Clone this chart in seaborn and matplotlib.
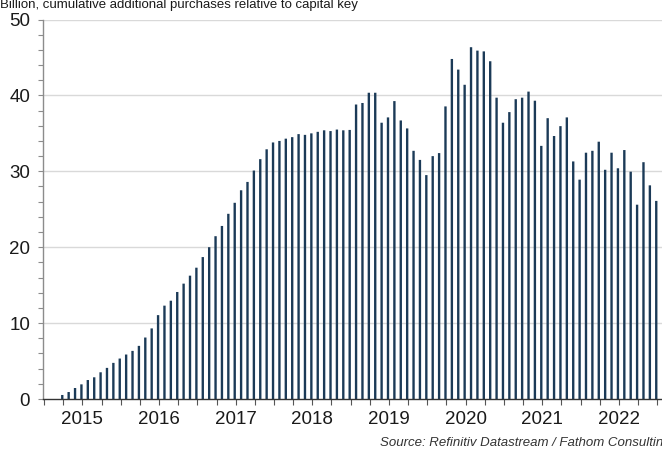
import matplotlib
matplotlib.use("Agg")
import matplotlib.pyplot as plt
import seaborn as sns
import pandas as pd
import numpy as np

# Monthly categories: Mar 2015 .. Dec 2022
months = [p.strftime("%Y-%m") for p in pd.period_range("2015-03", "2022-12", freq="M")]

values = [
    0.53, 0.92, 1.45, 1.93, 2.5, 2.86, 3.52, 4.1, 4.76, 5.33,
    5.86, 6.34, 7.0, 8.1, 9.3, 11.05, 12.3, 12.95, 14.1, 15.2,
    16.25, 17.3, 18.7, 20.0, 21.45, 22.8, 24.4, 25.85, 27.5, 28.6,
    30.1, 31.6, 32.9, 33.8, 34.0, 34.3, 34.5, 34.9, 34.8, 35.0,
    35.2, 35.4, 35.3, 35.5, 35.4, 35.45, 38.8, 39.0, 40.35, 40.35,
    36.4, 37.1, 39.25, 36.7, 35.65, 32.7, 31.5, 29.5, 32.0, 32.4,
    38.55, 44.8, 43.4, 41.4, 46.35, 45.9, 45.8, 44.5, 39.7, 36.4,
    37.8, 39.5, 39.7, 40.5, 39.3, 33.35, 37.0, 34.65, 35.95, 37.1,
    31.3, 28.9, 32.45, 32.7, 33.9, 30.2, 32.45, 30.4, 32.8, 29.95,
    25.6, 31.2, 28.15, 26.1,
]

year_labels = ["2015", "2016", "2017", "2018", "2019", "2020", "2021", "2022"]
y_ticks = [0, 10, 20, 30, 40, 50]

title = "Billion, cumulative additional purchases relative to capital key"
source = "Source: Refinitiv Datastream / Fathom Consulting"

sns.set_theme(style="white")
plt.rcParams["font.family"] = ["Liberation Sans", "DejaVu Sans"]

W, H = 662, 450
fig = plt.figure(figsize=(W / 100, H / 100), dpi=100)
ax = fig.add_axes([43.3 / W, 1 - 399 / H, (662 - 43.3) / W, (399 - 19.5) / H])

df = pd.DataFrame({"month": months, "value": values})
sns.barplot(data=df, x="month", y="value", order=months, color="#1b3a57",
            saturation=1, width=0.37, errorbar=None, ax=ax, zorder=3,
            linewidth=0, antialiased=True, snap=False)

first_month_offset = 2  # index 0 = March 2015
def month_pos(year, month_float):
    return (year - 2015) * 12 + month_float - first_month_offset - 0.85

minor = [month_pos(2015, m) + 12 * k for k in range(-1, 9) for m in (0, 3, 6, 9)]
minor = sorted(p for p in minor if -3 <= p <= 94)
ax.set_xticks(minor, minor=True)
major = [month_pos(2015 + i, 6) for i in range(len(year_labels))]
ax.set_xticks(major)
ax.set_xticklabels(year_labels)
ax.set_xlim(-2.97, 93.9)

ax.set_ylim(0, 50)
ax.set_yticks(y_ticks)
ax.set_yticklabels([str(v) for v in y_ticks])
ax.set_yticks(np.arange(0, 51, 2), minor=True)

ax.set_xlabel("")
ax.set_ylabel("")

ax.grid(False)
for v in y_ticks[1:]:
    ax.axhline(v, color="#d9d9d9", lw=1.0, zorder=1)

for s in ["top", "right"]:
    ax.spines[s].set_visible(False)
ax.spines["left"].set_color("#8c8c8c")
ax.spines["left"].set_linewidth(1.0)
ax.spines["bottom"].set_color("#333333")
ax.spines["bottom"].set_linewidth(1.0)
ax.spines["bottom"].set_zorder(4)

ax.tick_params(axis="x", which="both", direction="out", length=4, width=0.8,
               color="#555555", bottom=True, labelsize=13.5, pad=5,
               labelcolor="#1a1a1a")
ax.tick_params(axis="y", which="both", direction="out", length=3.5, width=0.8,
               color="#8c8c8c", left=True, labelsize=13.5, pad=6,
               labelcolor="#1a1a1a")

fig.text(0.0, 1 - 8 / H, title, fontsize=9.5, va="baseline", ha="left",
         color="#1a1a1a")
fig.text(380 / W, 1 - 446 / H, source, fontsize=9.5, style="italic",
         va="baseline", ha="left", color="#333333")

fig.savefig("out.png", dpi=100)
